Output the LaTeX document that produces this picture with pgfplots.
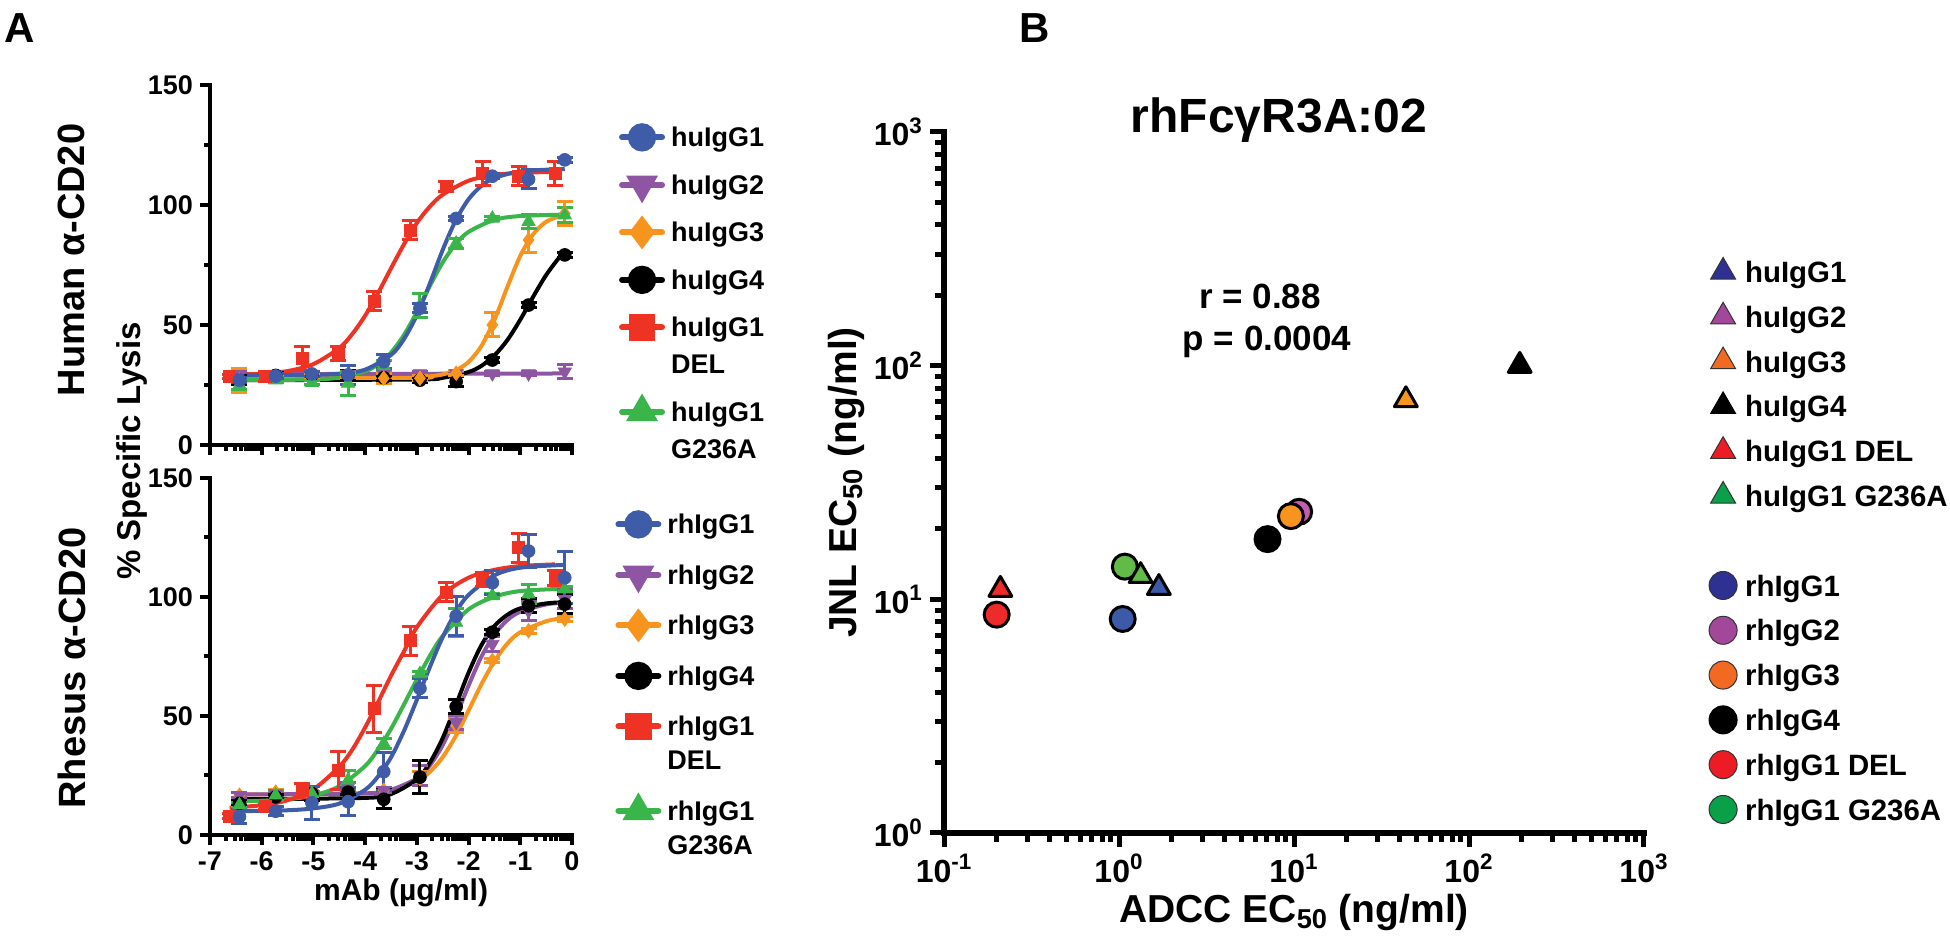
\documentclass[border=0pt]{standalone}
\usepackage{pgfplots}
\usepackage{pgfplotstable}
\pgfplotsset{compat=1.18}
\usepackage{fontspec}
\setmainfont{Liberation Sans}

\definecolor{aBlue}{HTML}{3F5CA9}
\definecolor{aPurple}{HTML}{8D55A2}
\definecolor{aOrange}{HTML}{F7941D}
\definecolor{aRed}{HTML}{EE3224}
\definecolor{aGreen}{HTML}{3AB54A}
\definecolor{sBlue}{HTML}{3C5AA8}
\definecolor{sPink}{HTML}{C55CB0}
\definecolor{sOrange}{HTML}{F7941E}
\definecolor{sRed}{HTML}{EE2A2A}
\definecolor{sGreen}{HTML}{62BB46}
\definecolor{lBlue}{HTML}{2E3192}
\definecolor{lPurple}{HTML}{A3479B}
\definecolor{lOrange}{HTML}{F26A21}
\definecolor{lRed}{HTML}{ED1C24}
\definecolor{lGreen}{HTML}{0A9F49}

% Human anti-CD20 (top)
\pgfplotstableread{
x     xr    g1    e1  g2   e2  g3   e3  g4   e4  del   ed  ga   ea
-6.43 -6.62 27.0  1   29.5 1   27.0 5   27.0 2   28.5  1   25.0 2
-5.73 -5.92 28.7  1   29.5 1   28.5 1   29.0 1   28.5  2   27.0 1
-5.03 -5.22 29.6  1   29.5 1   28.5 1   29.3 1   36.0  5   26.0 1
-4.33 -4.52 29.2  4   29.5 1   29.0 1   29.0 2   38.0  3   25.7 5
-3.64 -3.83 34.7  3   29.5 1   27.8 2   28.0 1   60.0  4   33.0 2
-2.94 -3.13 57.0  2   29.8 1   27.8 1   27.0 1   89.6  4   58.0 5
-2.24 -2.43 94.4  1   29.8 1   29.9 1   26.4 2   107.6 2   84.0 2
-1.54 -1.73 112.0 1   29.8 1   50.0 5   35.4 1   113.0 5   94.4 1
-0.84 -1.03 110.7 4   29.8 1   85.4 5   58.3 1   112.0 4   93.0 3
-0.14 -0.33 118.8 1   30.5 3   96.5 5   79.2 1   113.0 5   95.8 3
}\topdata

% Rhesus anti-CD20 (bottom)
\pgfplotstableread{
x     xr    g1    e1  g2   e2  g3   e3  g4   e4  del   ed  ga    ea
-6.43 -6.62 7.7   3   16.7 1   16.7 1   13.3 1   8.0   1   12.6  1
-5.73 -5.92 10.0  2   17.4 1   18.0 1   16.0 1   11.9  1   16.7  2
-5.03 -5.22 13.5  7   17.4 1   17.4 1   17.4 3   18.8  3   17.4  1
-4.33 -4.52 14.0  6   20.0 2   18.0 1   18.0 1   27.2  8   23.0  4
-3.64 -3.83 26.6  8   18.8 1   18.8 1   15.0 4   53.0  10  38.4  2
-2.94 -3.13 61.6  4   25.0 4   23.7 3   24.3 7   81.6  6   67.7  1
-2.24 -2.43 92.0  8   47.4 3   46.0 3   53.9 3   101.9 4   89.3  6
-1.54 -1.73 106.0 5   80.2 3   73.3 1   85.2 1   107.4 3   100.5 1
-0.84 -1.03 119.3 7   94.2 4   85.8 1   96.3 3   120.7 6   101.2 4
-0.14 -0.33 108.1 11  99.0 4   90.7 1   97.0 4   108.0 3   103.3 1
}\botdata

\pgfplotsset{
 panelA/.style={
  scale only axis, width=181pt, anchor=south west,
  xmin=-7, xmax=0, ymin=0, ymax=150,
  axis lines*=left,
  axis line style={line width=2.2pt, line cap=rect},
  tick align=outside,
  major tick length=5pt, minor tick length=3pt,
  tick style={black, line width=2pt},
  xtick={-7,-6,-5,-4,-3,-2,-1,0},
  minor xtick={-6.699,-6.523,-6.398,-6.301,-6.222,-6.155,-6.097,-6.046,
   -5.699,-5.523,-5.398,-5.301,-5.222,-5.155,-5.097,-5.046,
   -4.699,-4.523,-4.398,-4.301,-4.222,-4.155,-4.097,-4.046,
   -3.699,-3.523,-3.398,-3.301,-3.222,-3.155,-3.097,-3.046,
   -2.699,-2.523,-2.398,-2.301,-2.222,-2.155,-2.097,-2.046,
   -1.699,-1.523,-1.398,-1.301,-1.222,-1.155,-1.097,-1.046,
   -0.699,-0.523,-0.398,-0.301,-0.222,-0.155,-0.097,-0.046},
  ytick={0,50,100,150}, yticklabels={0,50,100,150},
  minor ytick={25,75,125},
  tick label style={font=\bfseries\fontsize{13.5}{15}\selectfont},
  clip=false,
  legend style={draw=none, fill=none, inner sep=0pt, outer sep=0pt,
    anchor=north west, column sep=1pt,
    cells={anchor=base west},
    font=\bfseries\fontsize{13.5}{17.5}\selectfont},
  legend image code/.code={
    \draw[##1, mark=none, line width=3pt, line cap=round] (0pt,4.8pt) -- (20pt,4.8pt);
    \draw[##1, /tikz/every mark/.append style={scale=1.9}] plot coordinates {(10pt,4.8pt)};
  },
 },
 curve/.style={smooth, line width=2pt, forget plot, mark=none},
 pts/.style={only marks, forget plot,
   /pgfplots/error bars/y dir=both, /pgfplots/error bars/y explicit,
   /pgfplots/error bars/error bar style={line width=1.5pt},
   /pgfplots/error bars/error mark options={rotate=90, mark size=4pt, line width=1.5pt}},
}

\begin{document}
\begin{tikzpicture}
\path[use as bounding box] (0pt,0pt) rectangle (975pt,471pt);

% ---------------- Panel A top ----------------
\begin{axis}[panelA, at={(105pt,248.5pt)}, height=180pt,
  xticklabels={},
  legend style={at={(1.130,0.907)}, row sep=6pt}]
\addlegendimage{aBlue, line width=2pt, mark=*, mark size=3.2pt}
\addlegendentry{\strut huIgG1}
\addlegendimage{aPurple, line width=2pt, mark=triangle*, mark size=3.8pt, mark options={rotate=180}}
\addlegendentry{\strut huIgG2}
\addlegendimage{aOrange, line width=2pt, mark=diamond*, mark size=3.6pt}
\addlegendentry{\strut huIgG3}
\addlegendimage{black, line width=2pt, mark=*, mark size=3.2pt}
\addlegendentry{\strut huIgG4}
\addlegendimage{aRed, line width=2pt, mark=square*, mark size=3pt}
\addlegendentry{\strut huIgG1}
\addlegendimage{empty legend}
\addlegendentry{\raisebox{0pt}[7pt][1.5pt]{DEL}}
\addlegendimage{aGreen, line width=2pt, mark=triangle*, mark size=3.8pt}
\addlegendentry{\strut huIgG1}
\addlegendimage{empty legend}
\addlegendentry{\raisebox{0pt}[7pt][1.5pt]{G236A}}

\addplot[curve, aPurple] coordinates {(-6.43,29.5) (-0.14,29.8)};
\addplot[curve, black] coordinates {(-6.43,27) (-3,27.3) (-2.5,28) (-2,30.4) (-1.75,33) (-1.5,37.3) (-1.25,43.7) (-1,52.2) (-0.75,61.8) (-0.5,70.8) (-0.25,78) (-0.14,80)};
\addplot[curve, aOrange] coordinates {(-6.43,28) (-3,28) (-2.75,28.6) (-2.5,29.4) (-2.25,31.1) (-2,34.6) (-1.75,41.3) (-1.5,52.1) (-1.25,65.8) (-1,78.8) (-0.75,87.8) (-0.5,93) (-0.14,96.2)};
\addplot[curve, aGreen] coordinates {(-6.43,27) (-5,27.3) (-4.5,28.1) (-4,30.7) (-3.75,33.6) (-3.5,38.5) (-3.25,45.8) (-3,55.4) (-2.75,66.2) (-2.5,76.1) (-2.25,83.7) (-2,88.8) (-1.5,93.8) (-1,95.4) (-0.14,96)};
\addplot[curve, aRed] coordinates {(-6.62,29.2) (-6,29.7) (-5.5,30.8) (-5,33.7) (-4.5,40.4) (-4.25,46.2) (-4,53.9) (-3.75,63.3) (-3.5,73.6) (-3.25,83.6) (-3,92.5) (-2.75,99.3) (-2.5,104.3) (-2,110.1) (-1.5,112.5) (-1,113.4) (-0.33,113.8)};
\addplot[curve, aBlue] coordinates {(-6.43,29) (-5,29.2) (-4.5,29.7) (-4,31.4) (-3.5,37.5) (-3.25,44.1) (-3,54.1) (-2.75,67.2) (-2.5,81.3) (-2.25,93.5) (-2,102.4) (-1.75,108) (-1.5,111.2) (-1,114) (-0.14,115)};

\addplot[pts, color=aPurple, mark=triangle*, mark size=3.8pt, mark options={rotate=180}] table[x=x, y=g2, y error=e2] {\topdata};
\addplot[pts, color=black, mark=*, mark size=3.2pt] table[x=x, y=g4, y error=e4] {\topdata};
\addplot[pts, color=aOrange, mark=diamond*, mark size=3.6pt] table[x=x, y=g3, y error=e3] {\topdata};
\addplot[pts, color=aGreen, mark=triangle*, mark size=3.8pt] table[x=x, y=ga, y error=ea] {\topdata};
\addplot[pts, color=aRed, mark=square*, mark size=3pt] table[x=xr, y=del, y error=ed] {\topdata};
\addplot[pts, color=aBlue, mark=*, mark size=3.2pt] table[x=x, y=g1, y error=e1] {\topdata};
\end{axis}

% ---------------- Panel A bottom ----------------
\begin{axis}[panelA, at={(105pt,53.5pt)}, height=178.5pt,
  xticklabels={-7,-6,-5,-4,-3,-2,-1,0},
  xlabel={mAb (µg/ml)},
  every axis x label/.style={at={(axis description cs:0.528,-0.1625)}, anchor=center,
     font=\bfseries\fontsize{15}{17}\selectfont},
  legend style={at={(1.12,0.923)}, row sep=7.5pt}]
\addlegendimage{aBlue, line width=2pt, mark=*, mark size=3.2pt}
\addlegendentry{\strut rhIgG1}
\addlegendimage{aPurple, line width=2pt, mark=triangle*, mark size=3.8pt, mark options={rotate=180}}
\addlegendentry{\strut rhIgG2}
\addlegendimage{aOrange, line width=2pt, mark=diamond*, mark size=3.6pt}
\addlegendentry{\strut rhIgG3}
\addlegendimage{black, line width=2pt, mark=*, mark size=3.2pt}
\addlegendentry{\strut rhIgG4}
\addlegendimage{aRed, line width=2pt, mark=square*, mark size=3pt}
\addlegendentry{\strut rhIgG1}
\addlegendimage{empty legend}
\addlegendentry{\raisebox{0pt}[4pt][1.5pt]{DEL}}
\addlegendimage{aGreen, line width=2pt, mark=triangle*, mark size=3.8pt}
\addlegendentry{\strut rhIgG1}
\addlegendimage{empty legend}
\addlegendentry{\raisebox{0pt}[4pt][1.5pt]{G236A}}

\addplot[curve, aOrange] coordinates {(-6.43,17) (-4,17.5) (-3.5,18.7) (-3,22.5) (-2.75,26.5) (-2.5,32.7) (-2.25,41.5) (-2,52.3) (-1.75,63.4) (-1.5,73) (-1.25,80.4) (-1,85.2) (-0.5,89.8) (-0.14,91.2)};
\addplot[curve, aPurple] coordinates {(-6.43,17) (-4,17.5) (-3.5,19) (-3,23.8) (-2.75,29.2) (-2.5,37.8) (-2.25,49.6) (-2,62.8) (-1.75,75) (-1.5,84.2) (-1.25,90.3) (-1,93.8) (-0.5,96.9) (-0.14,97.6)};
\addplot[curve, black] coordinates {(-6.43,15) (-4,15.6) (-3.5,17.2) (-3,23.4) (-2.75,30.3) (-2.5,40.7) (-2.25,54.3) (-2,68.2) (-1.75,79.8) (-1.5,87.8) (-1.25,92.5) (-1,95.2) (-0.5,97.3) (-0.14,97.8)};
\addplot[curve, aGreen] coordinates {(-6.43,14.2) (-6,14.4) (-5.5,15) (-5,16.6) (-4.5,20.5) (-4,29) (-3.75,36) (-3.5,44.6) (-3.25,54.8) (-3,65.3) (-2.75,75.2) (-2.5,83.6) (-2,94.8) (-1.5,100.1) (-1,102.5) (-0.14,103.5)};
\addplot[curve, aRed] coordinates {(-6.62,11.5) (-6,12.5) (-5.5,14.6) (-5,19.2) (-4.5,28.7) (-4.25,35.8) (-4,45.2) (-3.75,55.8) (-3.5,66.9) (-3.25,77.1) (-3,87.3) (-2.5,100.9) (-2,108.1) (-1.5,111.4) (-1,113) (-0.33,113.7)};
\addplot[curve, aBlue] coordinates {(-6.43,10) (-5.5,10.4) (-5,11.2) (-4.5,13.2) (-4,19) (-3.75,24.6) (-3.5,32.6) (-3.25,43.7) (-3,56.8) (-2.75,70.5) (-2.5,83.2) (-2.25,93.5) (-2,100.9) (-1.5,109.1) (-1,112.3) (-0.14,113.5)};

\addplot[pts, color=aOrange, mark=diamond*, mark size=3.6pt] table[x=x, y=g3, y error=e3] {\botdata};
\addplot[pts, color=aPurple, mark=triangle*, mark size=3.8pt, mark options={rotate=180}] table[x=x, y=g2, y error=e2] {\botdata};
\addplot[pts, color=black, mark=*, mark size=3.2pt] table[x=x, y=g4, y error=e4] {\botdata};
\addplot[pts, color=aGreen, mark=triangle*, mark size=3.8pt] table[x=x, y=ga, y error=ea] {\botdata};
\addplot[pts, color=aRed, mark=square*, mark size=3pt] table[x=xr, y=del, y error=ed] {\botdata};
\addplot[pts, color=aBlue, mark=*, mark size=3.2pt] table[x=x, y=g1, y error=e1] {\botdata};
\end{axis}

% ---------------- Panel B ----------------
\begin{axis}[at={(472pt,54.5pt)}, anchor=south west, scale only axis,
  width=350pt, height=350.5pt,
  xmode=log, ymode=log, xmin=0.1, xmax=1000, ymin=1, ymax=1000,
  axis lines*=left,
  axis line style={line width=2.7pt, line cap=rect},
  tick align=outside, major tick length=7pt, minor tick length=4.5pt,
  tick style={black, line width=2.5pt},
  xtick={0.1,1,10,100,1000},
  xticklabels={10\textsuperscript{-1},10\textsuperscript{0},10\textsuperscript{1},10\textsuperscript{2},10\textsuperscript{3}},
  minor xtick={0.2,0.3,0.4,0.5,0.6,0.7,0.8,0.9,2,3,4,5,6,7,8,9,20,30,40,50,60,70,80,90,200,300,400,500,600,700,800,900},
  ytick={1,10,100,1000},
  yticklabels={10\textsuperscript{0},10\textsuperscript{1},10\textsuperscript{2},10\textsuperscript{3}},
  minor ytick={2,3,4,5,6,7,8,9,20,30,40,50,60,70,80,90,200,300,400,500,600,700,800,900},
  tick label style={font=\bfseries\fontsize{16}{18}\selectfont},
  xlabel={ADCC EC\textsubscript{50} (ng/ml)},
  ylabel={JNL EC\textsubscript{50} (ng/ml)},
  every axis x label/.style={at={(axis description cs:0.5,-0.1127)}, anchor=center,
     font=\bfseries\fontsize{19.5}{22}\selectfont},
  every axis y label/.style={at={(axis description cs:-0.139,0.5)}, anchor=center, rotate=90,
     font=\bfseries\fontsize{19.5}{22}\selectfont},
  clip=false,
  legend style={at={(1.093,0.825)}, anchor=north west, draw=none, fill=none,
    inner sep=0pt, outer sep=0pt, row sep=5pt, column sep=2pt,
    cells={anchor=base west},
    font=\bfseries\fontsize{14.7}{17}\selectfont},
  legend image code/.code={\draw[#1] plot coordinates {(7pt,5.3pt)};},
]
\addlegendimage{only marks, mark=triangle*, mark size=7.2pt, mark options={fill=lBlue, draw=black!80, line width=0.5pt}}
\addlegendentry{\strut huIgG1}
\addlegendimage{only marks, mark=triangle*, mark size=7.2pt, mark options={fill=lPurple, draw=black!80, line width=0.5pt}}
\addlegendentry{\strut huIgG2}
\addlegendimage{only marks, mark=triangle*, mark size=7.2pt, mark options={fill=lOrange, draw=black!80, line width=0.5pt}}
\addlegendentry{\strut huIgG3}
\addlegendimage{only marks, mark=triangle*, mark size=7.2pt, mark options={fill=black, draw=black, line width=0.5pt}}
\addlegendentry{\strut huIgG4}
\addlegendimage{only marks, mark=triangle*, mark size=7.2pt, mark options={fill=lRed, draw=black!80, line width=0.5pt}}
\addlegendentry{\strut huIgG1 DEL}
\addlegendimage{only marks, mark=triangle*, mark size=7.2pt, mark options={fill=lGreen, draw=black!80, line width=0.5pt}}
\addlegendentry{\strut huIgG1 G236A}
\addlegendimage{empty legend}
\addlegendentry{\strut}
\addlegendimage{only marks, mark=*, mark size=7pt, mark options={fill=lBlue, draw=black!80, line width=0.5pt}}
\addlegendentry{\strut rhIgG1}
\addlegendimage{only marks, mark=*, mark size=7pt, mark options={fill=lPurple, draw=black!80, line width=0.5pt}}
\addlegendentry{\strut rhIgG2}
\addlegendimage{only marks, mark=*, mark size=7pt, mark options={fill=lOrange, draw=black!80, line width=0.5pt}}
\addlegendentry{\strut rhIgG3}
\addlegendimage{only marks, mark=*, mark size=7pt, mark options={fill=black, draw=black, line width=0.5pt}}
\addlegendentry{\strut rhIgG4}
\addlegendimage{only marks, mark=*, mark size=7pt, mark options={fill=lRed, draw=black!80, line width=0.5pt}}
\addlegendentry{\strut rhIgG1 DEL}
\addlegendimage{only marks, mark=*, mark size=7pt, mark options={fill=lGreen, draw=black!80, line width=0.5pt}}
\addlegendentry{\strut rhIgG1 G236A}

% rhesus (circles)
\addplot[only marks, forget plot, mark=*, mark size=6.25pt, color=black, mark options={fill=sRed, line width=1.5pt}] coordinates {(0.20,8.6)};
\addplot[only marks, forget plot, mark=*, mark size=6.25pt, color=black, mark options={fill=sBlue, line width=1.5pt}] coordinates {(1.05,8.24)};
\addplot[only marks, forget plot, mark=*, mark size=6.25pt, color=black, mark options={fill=sGreen, line width=1.5pt}] coordinates {(1.08,13.8)};
\addplot[only marks, forget plot, mark=*, mark size=6.25pt, color=black, mark options={fill=black, line width=1.5pt}] coordinates {(7.06,18.1)};
\addplot[only marks, forget plot, mark=*, mark size=6.25pt, color=black, mark options={fill=sPink, line width=1.5pt}] coordinates {(10.7,23.7)};
\addplot[only marks, forget plot, mark=*, mark size=6.25pt, color=black, mark options={fill=sOrange, line width=1.5pt}] coordinates {(9.6,22.7)};
% human (triangles)
\addplot[only marks, forget plot, mark=triangle*, mark size=6.6pt, color=black, mark options={fill=sRed, line width=1.5pt, line join=round}] coordinates {(0.21,11.0)};
\addplot[only marks, forget plot, mark=triangle*, mark size=6.6pt, color=black, mark options={fill=sGreen, line width=1.5pt, line join=round}] coordinates {(1.33,12.6)};
\addplot[only marks, forget plot, mark=triangle*, mark size=6.6pt, color=black, mark options={fill=sBlue, line width=1.5pt, line join=round}] coordinates {(1.69,11.2)};
\addplot[only marks, forget plot, mark=triangle*, mark size=6.6pt, color=black, mark options={fill=sOrange, line width=1.5pt, line join=round}] coordinates {(43.6,71.3)};
\addplot[only marks, forget plot, mark=triangle*, mark size=6.6pt, color=black, mark options={fill=black, line width=1.5pt, line join=round}] coordinates {(195,100)};
\end{axis}

% ---------------- free text ----------------
\node[font=\bfseries\fontsize{21}{23}\selectfont] at (10pt,457pt) {A};
\node[font=\bfseries\fontsize{21}{23}\selectfont] at (517.5pt,457pt) {B};
\node[rotate=90, font=\bfseries\fontsize{19}{21}\selectfont] at (35.5pt,341pt) {Human α-CD20};
\node[rotate=90, font=\bfseries\fontsize{19}{21}\selectfont] at (36pt,137pt) {Rhesus α-CD20};
\node[rotate=90, font=\bfseries\fontsize{16.5}{18}\selectfont] at (66pt,245.5pt) {\% Specific Lysis};
\node[font=\bfseries\fontsize{24}{26}\selectfont] at (639.5pt,411pt) {rhFcγR3A:02};
\node[font=\bfseries\fontsize{17.5}{19}\selectfont] at (630pt,323pt) {r = 0.88};
\node[font=\bfseries\fontsize{17.5}{19}\selectfont] at (633.5pt,300pt) {p = 0.0004};
\end{tikzpicture}
\end{document}
